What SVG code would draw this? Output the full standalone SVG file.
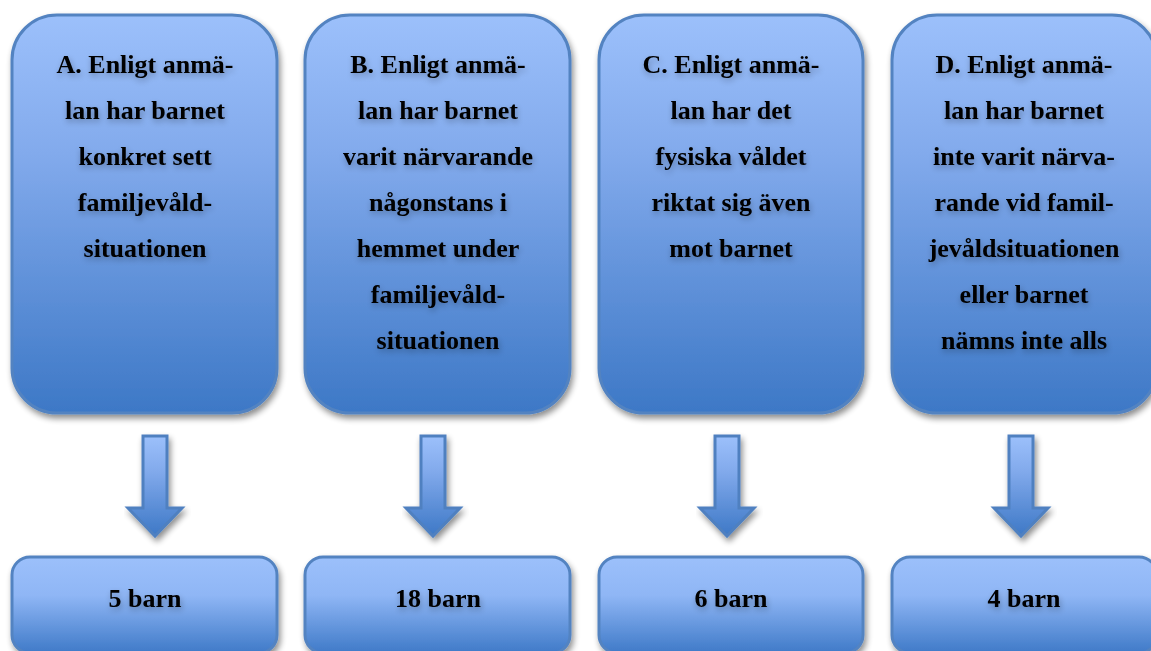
<svg xmlns="http://www.w3.org/2000/svg" width="1151" height="651" viewBox="0 0 1151 651">
<defs>
<linearGradient id="g" x1="0" y1="0" x2="0" y2="1">
<stop offset="0" stop-color="#9cc0fb"/>
<stop offset="0.35" stop-color="#82aaec"/>
<stop offset="1" stop-color="#3d78c6"/>
</linearGradient>
<linearGradient id="gs" x1="0" y1="0" x2="0" y2="1">
<stop offset="0" stop-color="#9cc0fb"/>
<stop offset="0.4" stop-color="#8fb6f5"/>
<stop offset="1" stop-color="#3f7ac8"/>
</linearGradient>
<filter id="sh" x="-10%" y="-10%" width="125%" height="125%">
<feGaussianBlur in="SourceAlpha" stdDeviation="3"/>
<feOffset dx="2" dy="4" result="b"/>
<feComponentTransfer><feFuncA type="linear" slope="0.45"/></feComponentTransfer>
<feMerge><feMergeNode/><feMergeNode in="SourceGraphic"/></feMerge>
</filter>
<filter id="ts" x="-10%" y="-30%" width="120%" height="160%">
<feGaussianBlur in="SourceAlpha" stdDeviation="3"/>
<feOffset dx="1" dy="3"/>
<feComponentTransfer><feFuncA type="linear" slope="0.3"/></feComponentTransfer>
<feMerge><feMergeNode/><feMergeNode in="SourceGraphic"/></feMerge>
</filter>
<path id="arr" d="M-12,0 H12 V72 H27 L0,100 L-27,72 H-12 Z"/>
</defs>
<style>
.box{fill:url(#g);stroke:#5383c1;stroke-width:3;filter:url(#sh)}
.sbox{fill:url(#gs);stroke:#5383c1;stroke-width:3;filter:url(#sh)}
.arrow{fill:url(#g);stroke:#4f80c0;stroke-width:3;filter:url(#sh)}
text{font-family:"Liberation Serif","Times New Roman",serif;font-weight:bold;font-size:26px;fill:#000;text-anchor:middle;filter:url(#ts)}
</style>
<rect width="1151" height="651" fill="#fff"/>

<g id="nodeA">
<rect class="box" x="12" y="15" width="265" height="398" rx="45"/>
<text x="145" y="73">A. Enligt anmä-</text>
<text x="145" y="119">lan har barnet</text>
<text x="145" y="165">konkret sett</text>
<text x="145" y="211">familjevåld-</text>
<text x="145" y="257">situationen</text>
</g>
<g id="nodeB">
<rect class="box" x="305" y="15" width="265" height="398" rx="45"/>
<text x="438" y="73">B. Enligt anmä-</text>
<text x="438" y="119">lan har barnet</text>
<text x="438" y="165">varit närvarande</text>
<text x="438" y="211">någonstans i</text>
<text x="438" y="257">hemmet under</text>
<text x="438" y="303">familjevåld-</text>
<text x="438" y="349">situationen</text>
</g>
<g id="nodeC">
<rect class="box" x="599" y="15" width="264" height="398" rx="45"/>
<text x="731" y="73">C. Enligt anmä-</text>
<text x="731" y="119">lan har det</text>
<text x="731" y="165">fysiska våldet</text>
<text x="731" y="211">riktat sig även</text>
<text x="731" y="257">mot barnet</text>
</g>
<g id="nodeD">
<rect class="box" x="892" y="15" width="265" height="398" rx="45"/>
<text x="1024" y="73">D. Enligt anmä-</text>
<text x="1024" y="119">lan har barnet</text>
<text x="1024" y="165">inte varit närva-</text>
<text x="1024" y="211">rande vid famil-</text>
<text x="1024" y="257">jevåldsituationen</text>
<text x="1024" y="303">eller barnet</text>
<text x="1024" y="349">nämns inte alls</text>
</g>

<g id="connectors">
<use href="#arr" class="arrow" x="155" y="436"/>
<use href="#arr" class="arrow" x="433" y="436"/>
<use href="#arr" class="arrow" x="727" y="436"/>
<use href="#arr" class="arrow" x="1021" y="436"/>
</g>

<g id="resA">
<rect class="sbox" x="12" y="557" width="265" height="96" rx="18"/>
<text x="145" y="607">5 barn</text>
</g>
<g id="resB">
<rect class="sbox" x="305" y="557" width="265" height="96" rx="18"/>
<text x="438" y="607">18 barn</text>
</g>
<g id="resC">
<rect class="sbox" x="599" y="557" width="264" height="96" rx="18"/>
<text x="731" y="607">6 barn</text>
</g>
<g id="resD">
<rect class="sbox" x="892" y="557" width="265" height="96" rx="18"/>
<text x="1024" y="607">4 barn</text>
</g>
</svg>
